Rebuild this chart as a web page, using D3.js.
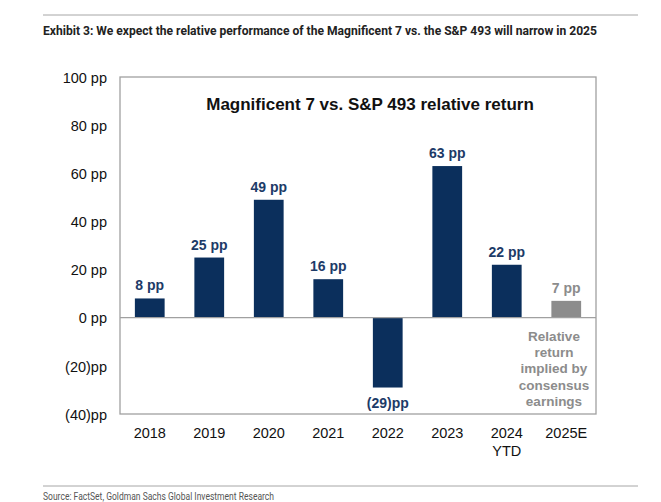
<!DOCTYPE html>
<html><head><meta charset="utf-8">
<script src="https://cdn.jsdelivr.net/npm/d3@7"></script>
<style>body{margin:0;background:#fff}svg{display:block}</style>
</head><body>
<svg id="c" width="661" height="502"></svg>
<script>
const categories = ["2018","2019","2020","2021","2022","2023","2024\nYTD","2025E"];
const values = [8, 25, 49, 16, -29, 63, 22, 7];
const valueLabels = ["8 pp","25 pp","49 pp","16 pp","(29)pp","63 pp","22 pp","7 pp"];
const estimate = [false,false,false,false,false,false,false,true];
const yTicks = [-40,-20,0,20,40,60,80,100];
const yTickLabels = ["(40)pp","(20)pp","0 pp","20 pp","40 pp","60 pp","80 pp","100 pp"];
const annotationLines = ["Relative","return","implied by","consensus","earnings"];

const svg = d3.select("#c");
const navy = "#0b2f5c", gray = "#8c8c8c", labelNavy = "#1d3b68";
const m = {left:120, right:596, top:77, bottom:414};

// header rule & title
svg.append("line").attr("x1",43).attr("x2",638).attr("y1",15).attr("y2",15).attr("stroke","#a6a6a6").attr("stroke-width",1);
svg.append("text").attr("x",43).attr("y",35)
  .attr("font-family","'Liberation Sans Narrow','Arial Narrow',Roboto,sans-serif").attr("font-weight","bold")
  .attr("font-size",12.5).attr("fill","#222").attr("textLength",554).attr("lengthAdjust","spacingAndGlyphs")
  .text("Exhibit 3: We expect the relative performance of the Magnificent 7 vs. the S&P 493 will narrow in 2025");

const x = d3.scaleBand().domain(categories).range([m.left,m.right]).paddingInner(0.5).paddingOuter(0.25);
const y = d3.scaleLinear().domain([-40,100]).range([m.bottom,m.top]);

// frame
svg.append("rect").attr("x",m.left).attr("y",m.top).attr("width",m.right-m.left).attr("height",m.bottom-m.top)
  .attr("fill","none").attr("stroke","#a0a0a0").attr("stroke-width",1.3);

// y axis
const yAxis = d3.axisLeft(y).tickValues(yTicks).tickSize(0).tickPadding(13)
  .tickFormat((d,i)=>yTickLabels[yTicks.indexOf(d)]);
const ya = svg.append("g").attr("transform",`translate(${m.left},0)`).call(yAxis);
ya.select(".domain").remove();
ya.selectAll("text").attr("font-family","'Liberation Sans',Arial,sans-serif").attr("font-size",14.5).attr("fill","#111").attr("dy","0.36em");

// bars
svg.append("g").selectAll("rect").data(values).join("rect")
  .attr("x",(d,i)=>x(categories[i]))
  .attr("width",x.bandwidth())
  .attr("y",d=>y(Math.max(0,d)))
  .attr("height",d=>Math.abs(y(d)-y(0)))
  .attr("fill",(d,i)=>estimate[i]?gray:navy);

// zero line
svg.append("line").attr("x1",m.left).attr("x2",m.right).attr("y1",y(0)).attr("y2",y(0)).attr("stroke","#a0a0a0").attr("stroke-width",1.3);

// value labels
svg.append("g").selectAll("text").data(values).join("text")
  .attr("x",(d,i)=>x(categories[i])+x.bandwidth()/2)
  .attr("y",d=>d>=0 ? y(d)-8 : y(d)+20)
  .attr("text-anchor","middle")
  .attr("font-family","'Liberation Sans',Arial,sans-serif").attr("font-weight","bold").attr("font-size",14)
  .attr("fill",(d,i)=>estimate[i]?gray:labelNavy)
  .text((d,i)=>valueLabels[i]);

// x axis labels
const xAxis = d3.axisBottom(x).tickSize(0).tickPadding(0).tickFormat(()=> "");
const xa = svg.append("g").attr("transform",`translate(0,${m.bottom})`).call(xAxis);
xa.select(".domain").remove();
xa.selectAll(".tick").each(function(d){
  const t = d3.select(this).append("text").attr("text-anchor","middle")
    .attr("font-family","'Liberation Sans',Arial,sans-serif").attr("font-size",14.5).attr("fill","#111");
  d.split("\n").forEach((s,j)=>t.append("tspan").attr("x",0).attr("y",24+j*18).text(s));
});

// chart title
svg.append("text").attr("x",370).attr("y",110).attr("text-anchor","middle")
  .attr("font-family","'Liberation Sans',Arial,sans-serif").attr("font-weight","bold").attr("font-size",17).attr("fill","#111")
  .text("Magnificent 7 vs. S&P 493 relative return");

// annotation
const ann = svg.append("text").attr("text-anchor","middle")
  .attr("font-family","'Liberation Sans',Arial,sans-serif").attr("font-weight","bold").attr("font-size",13.5).attr("fill",gray);
annotationLines.forEach((s,j)=>ann.append("tspan").attr("x",554).attr("y",341+j*16.2).text(s));

// footer
svg.append("line").attr("x1",43).attr("x2",638).attr("y1",486).attr("y2",486).attr("stroke","#a6a6a6").attr("stroke-width",1);
svg.append("text").attr("x",43).attr("y",500)
  .attr("font-family","'Liberation Sans Narrow','Arial Narrow',Roboto,sans-serif")
  .attr("font-size",10.5).attr("fill","#555").attr("textLength",231).attr("lengthAdjust","spacingAndGlyphs")
  .text("Source: FactSet, Goldman Sachs Global Investment Research");
</script>
</body></html>
